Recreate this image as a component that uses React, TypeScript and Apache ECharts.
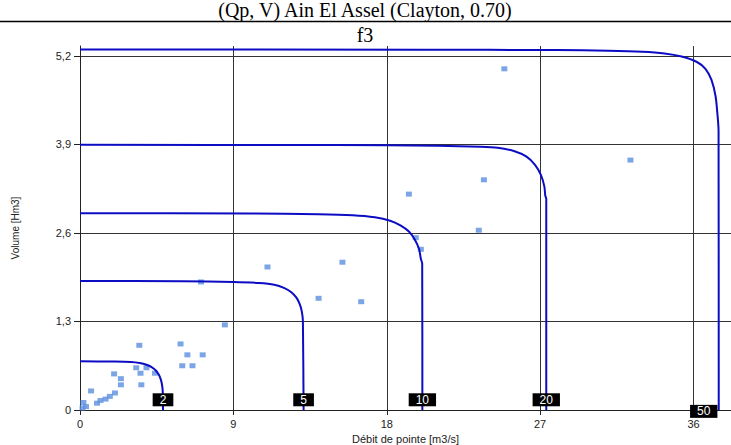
import React, { useEffect, useRef } from "react";
import * as echarts from "echarts";

// Axis ticks
const xTicks = [0, 9, 18, 27, 36];
const yTicks = [0, 1.3, 2.6, 3.9, 5.2];

// Return periods (years) of the joint (Qp, V) curves
const periods = ["2", "5", "10", "20", "50"];

// Iso-return-period curves: [Qp (m3/s), V (Hm3)]
const curveT2: number[][] = [
  [0, 0.715], [2, 0.712], [3, 0.705], [3.5, 0.69], [3.9, 0.665], [4.2, 0.63],
  [4.45, 0.58], [4.62, 0.52], [4.74, 0.45], [4.82, 0.36], [4.86, 0.25], [4.87, 0],
];
const curveT5: number[][] = [
  [0, 1.895], [6, 1.89], [9, 1.88], [10.5, 1.865], [11.4, 1.84], [12, 1.79],
  [12.4, 1.73], [12.7, 1.65], [12.9, 1.55], [13.02, 1.44], [13.08, 1.3], [13.12, 0],
];
const curveT10: number[][] = [
  [0, 2.89], [10, 2.885], [14, 2.875], [16, 2.86], [17.3, 2.83], [18.2, 2.78],
  [18.8, 2.71], [19.3, 2.62], [19.65, 2.5], [19.9, 2.36], [20.0, 2.22], [20.08, 2.15], [20.09, 0],
];
const curveT20: number[][] = [
  [0, 3.895], [15, 3.89], [21, 3.88], [23.5, 3.865], [24.5, 3.85], [25.5, 3.8],
  [26.2, 3.72], [26.7, 3.6], [27.05, 3.45], [27.25, 3.28], [27.3, 3.15], [27.36, 3.1], [27.36, 0],
];
const curveT50: number[][] = [
  [0, 5.295], [20, 5.29], [28, 5.285], [31, 5.275], [33, 5.26], [34.3, 5.235],
  [35.3, 5.19], [36.2, 5.11], [36.7, 5.01], [37.05, 4.85], [37.3, 4.6], [37.42, 4.3],
  [37.47, 4.1], [37.48, 0],
];
const curves = [curveT2, curveT5, curveT10, curveT20, curveT50];

// Where each return-period tag sits: [Qp, V]
const tagPositions: number[][] = [
  [4.87, 0.15], [13.12, 0.15], [20.09, 0.15], [27.36, 0.15], [36.6, -0.02],
];

// Observed flood events: [Qp (m3/s), V (Hm3)]
const observed: number[][] = [
  [0.2, 0.11], [0.35, 0.05], [0.15, 0.03], [0.65, 0.28], [1.0, 0.1], [1.2, 0.14],
  [1.5, 0.16], [1.75, 0.2], [2.05, 0.25], [2.4, 0.37], [2.4, 0.46], [2.0, 0.53],
  [3.3, 0.62], [3.55, 0.54], [3.9, 0.62], [3.6, 0.37], [4.4, 0.54], [3.48, 0.95],
  [5.9, 0.97], [6.3, 0.81], [7.2, 0.81], [6.0, 0.65], [6.6, 0.65], [8.5, 1.25],
  [7.1, 1.88], [11.0, 2.1], [14.0, 1.64], [15.4, 2.17], [16.5, 1.59], [19.3, 3.17],
  [19.7, 2.53], [20.0, 2.36], [23.4, 2.64], [23.7, 3.38], [24.9, 5.01], [32.3, 3.67],
];

const fmt = (v: number) => String(v).replace(".", ",");

export default function App() {
  const ref = useRef<HTMLDivElement>(null);

  useEffect(() => {
    if (!ref.current) return;
    const chart = echarts.init(ref.current, undefined, { renderer: "svg", width: 731, height: 445 });
    const axisFont = { fontFamily: "Liberation Sans, Arial, sans-serif", fontSize: 11, color: "#222" };

    chart.setOption({
      animation: false,
      backgroundColor: "#fff",
      graphic: [
        {
          type: "text",
          x: 365,
          y: 0,
          style: {
            text: "(Qp, V) Ain El Assel (Clayton, 0.70)",
            font: '20px "Liberation Serif", serif',
            fill: "#000",
            align: "center",
            verticalAlign: "top",
          },
        },
        {
          type: "line",
          shape: { x1: 0, y1: 21.5, x2: 731, y2: 21.5 },
          style: { stroke: "#000", lineWidth: 1.5 },
        },
        {
          type: "text",
          x: 365,
          y: 35,
          style: {
            text: "f3",
            font: '20px "Liberation Serif", serif',
            fill: "#000",
            align: "center",
            verticalAlign: "middle",
          },
        },
      ],
      grid: { left: 80, right: 0, top: 46, bottom: 35, containLabel: false, outerBoundsMode: "none" },
      xAxis: {
        type: "value",
        min: 0,
        max: 38.2,
        name: "Débit de pointe [m3/s]",
        nameLocation: "middle",
        nameGap: 23,
        nameTextStyle: { ...axisFont, fontSize: 11 },
        axisLine: { show: true, onZero: false, lineStyle: { color: "#222", width: 1 } },
        axisTick: { show: true, length: 5, customValues: xTicks, lineStyle: { color: "#222" } },
        axisLabel: { ...axisFont, customValues: xTicks, margin: 8, formatter: fmt },
        splitLine: { show: true, lineStyle: { color: "#333", width: 1 } },
      },
      yAxis: {
        type: "value",
        min: 0,
        max: 5.345,
        name: "Volume [Hm3]",
        nameLocation: "middle",
        nameGap: 60,
        nameRotate: 90,
        nameTextStyle: { ...axisFont, fontSize: 10 },
        axisLine: { show: true, onZero: false, lineStyle: { color: "#222", width: 1 } },
        axisTick: { show: true, length: 6, customValues: yTicks, lineStyle: { color: "#222" } },
        axisLabel: { ...axisFont, customValues: yTicks, margin: 9, formatter: fmt },
        splitLine: { show: true, lineStyle: { color: "#333", width: 1 } },
      },
      series: [
        ...curves.map((c, i) => ({
          type: "line",
          name: "T" + periods[i],
          data: c,
          showSymbol: false,
          symbol: "none",
          smooth: 0.2,
          clip: false,
          lineStyle: { color: "#0c0cc4", width: 2 },
          z: 3,
        })),
        {
          type: "scatter",
          name: "observed",
          data: observed,
          symbol: "rect",
          symbolSize: [6, 5],
          itemStyle: { color: "#5b8fe0" },
          z: 2,
        },
        {
          type: "scatter",
          name: "tags",
          clip: false,
          data: tagPositions.map((p, i) => ({ value: p, name: periods[i] })),
          symbolSize: 1,
          itemStyle: { color: "#000", opacity: 0 },
          label: {
            show: true,
            position: "inside",
            formatter: (p: any) => p.name,
            color: "#fff",
            backgroundColor: "#000",
            opacity: 1,
            padding: [1, 7, 0, 7],
            fontFamily: "Liberation Sans, Arial, sans-serif",
            fontSize: 12,
            lineHeight: 12,
          },
          z: 5,
        },
      ],
    });

    return () => chart.dispose();
  }, []);

  return (
    <div
      ref={ref}
      style={{ position: "fixed", left: 0, top: 0, width: 731, height: 445, background: "#fff" }}
    />
  );
}
